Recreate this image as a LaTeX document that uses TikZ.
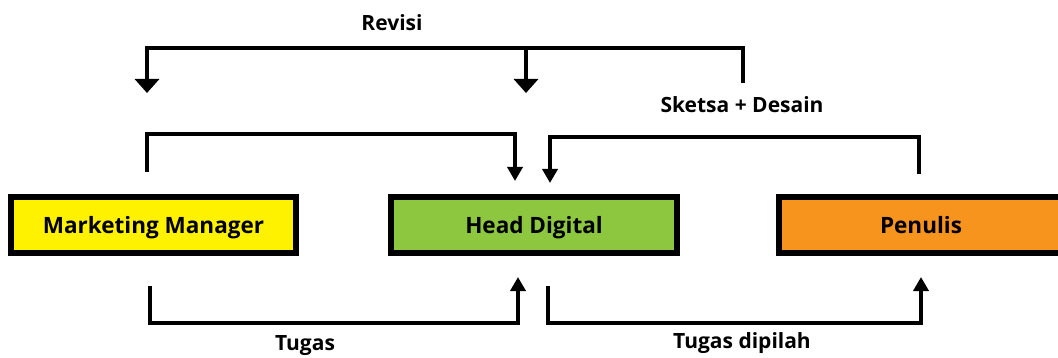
\documentclass[tikz,border=0pt]{standalone}
\usepackage{fontspec}
\setmainfont{Open Sans}
\usetikzlibrary{arrows.meta}
\definecolor{boxyellow}{HTML}{FFF200}
\definecolor{boxgreen}{HTML}{8DC63F}
\definecolor{boxorange}{HTML}{F7941D}
\begin{document}
\begin{tikzpicture}[x=1pt,y=-1pt,
  rolebox/.style={draw=black,line width=6pt,minimum height=56pt,inner sep=0pt,
    text height=16pt,text depth=0pt,
    font=\fontsize{22.5}{26}\selectfont\bfseries},
  conn/.style={line width=3.5pt,line join=miter,line cap=butt},
  bigtip/.style={-{Triangle[width=24pt,length=14pt]}},
  smalltip/.style={-{Triangle[width=15pt,length=14pt]}},
  lbl/.style={font=\fontsize{21}{24}\selectfont\bfseries,inner sep=0pt}]
\useasboundingbox (0,0) rectangle (1058,358);
\node[rolebox,fill=boxyellow,minimum width=285pt] (mm) at (153.5,225.5) {Marketing Manager};
\node[rolebox,fill=boxgreen,minimum width=286pt] (hd) at (534,225.5) {Head Digital};
\node[rolebox,fill=boxorange,minimum width=284pt] (pn) at (921,225.5) {Penulis};
% free ends and corners
\coordinate (rvS) at (743,83);
\coordinate (rvA) at (743,48);
\coordinate (rvB) at (147,48);
\coordinate (rvM) at (526,48);
\coordinate (rvT1) at (147,93);
\coordinate (rvT2) at (526,93);
\draw[conn,bigtip] (rvS) -- (rvA) -- (rvB) -- (rvT1);
\draw[conn,bigtip] (rvM) -- (rvT2);
\node[lbl] (revisi) at (392,23) {Revisi};
\node[lbl] (sketsa) at (742,105) {Sketsa + Desain};
% MM -> HD top
\coordinate (a1) at (147,172);
\coordinate (a2) at (147,134);
\coordinate (a3) at (515,134);
\coordinate (a4) at (515,181);
\draw[conn,smalltip] (a1) -- (a2) -- (a3) -- (a4);
% Penulis -> HD top
\coordinate (b1) at (919,174);
\coordinate (b2) at (919,137);
\coordinate (b3) at (550,137);
\coordinate (b4) at (550,183);
\draw[conn,smalltip] (b1) -- (b2) -- (b3) -- (b4);
% MM -> HD bottom
\coordinate (c1) at (150,286);
\coordinate (c2) at (150,323);
\coordinate (c3) at (518,323);
\coordinate (c4) at (518,277);
\draw[conn,smalltip] (c1) -- (c2) -- (c3) -- (c4);
% HD -> Penulis bottom
\coordinate (d1) at (548,286);
\coordinate (d2) at (548,323);
\coordinate (d3) at (921,323);
\coordinate (d4) at (921,277);
\draw[conn,smalltip] (d1) -- (d2) -- (d3) -- (d4);
\node[lbl] (tugas) at (305,346) {Tugas};
\node[lbl] (tugasd) at (742,343) {Tugas dipilah};
\end{tikzpicture}
\end{document}
